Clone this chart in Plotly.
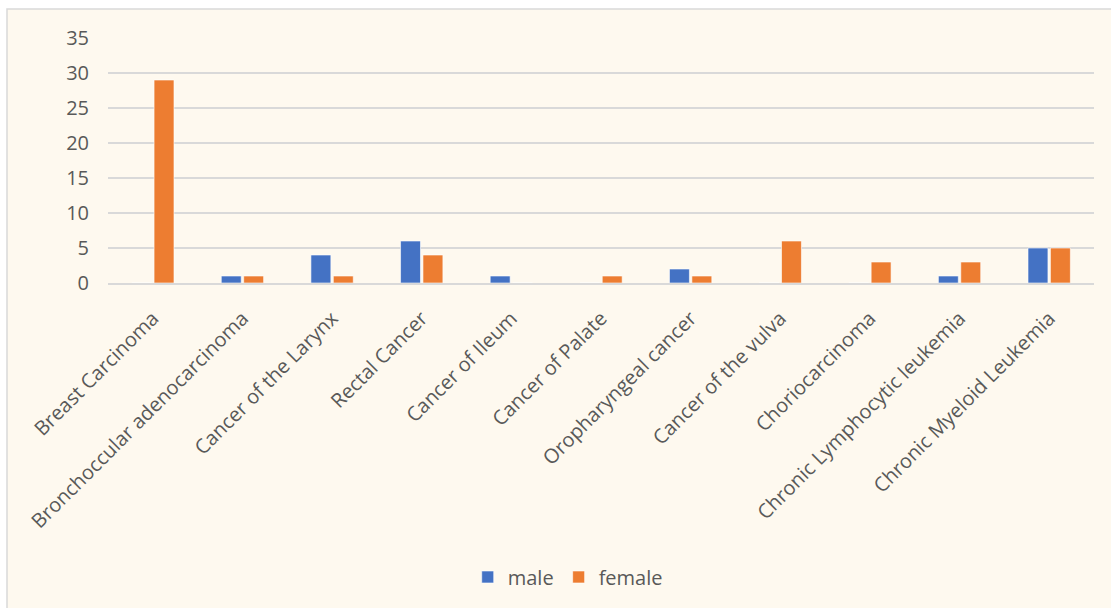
import plotly.graph_objects as go

categories = ["Breast Carcinoma", "Bronchoccular adenocarcinoma", "Cancer of the Larynx",
              "Rectal Cancer", "Cancer of Ileum", "Cancer of Palate", "Oropharyngeal cancer",
              "Cancer of the vulva", "Choriocarcinoma", "Chronic Lymphocytic leukemia",
              "Chronic Myeloid Leukemia"]
male = [0, 1, 4, 6, 1, 0, 2, 0, 0, 1, 5]
female = [29, 1, 1, 4, 0, 1, 1, 6, 3, 3, 5]

W, H = 1111, 608
L, R, T, B = 108, 17, 38, 325
pw, ph = W - L - R, H - T - B

FONT = "Open Sans"
TXT = "#595959"
BG = "#FEF9EF"

fig = go.Figure()
fig.add_trace(go.Bar(name="male", x=categories, y=male, marker_color="#4472C4",
                     marker_line=dict(color="rgba(255,255,255,0.6)", width=1)))
fig.add_trace(go.Bar(name="female", x=categories, y=female, marker_color="#ED7D31",
                     marker_line=dict(color="rgba(255,255,255,0.6)", width=1)))

fig.update_layout(
    width=W, height=H,
    margin=dict(l=L, r=R, t=T, b=B),
    paper_bgcolor="white",
    plot_bgcolor=BG,
    barmode="group",
    bargap=0.5,
    bargroupgap=0.11,
    font=dict(family=FONT, color=TXT, size=20),
    showlegend=True,
    legend=dict(orientation="h", xref="container", yref="container",
                x=0.511, y=0.051, xanchor="center", yanchor="middle",
                font=dict(size=20, color=TXT), bgcolor="rgba(0,0,0,0)",
                itemwidth=30, tracegroupgap=0),
    shapes=[dict(type="rect", xref="paper", yref="paper", layer="below",
                 x0=(7 - L) / pw, x1=(1120 - L) / pw,
                 y0=(H - B - 615) / ph, y1=(H - B - 9) / ph,
                 fillcolor=BG, line=dict(color="#D9D9D9", width=1.5))],
)
fig.update_yaxes(range=[0, 35], dtick=5, showgrid=True, gridcolor="#D9D9D9", gridwidth=1.5,
                 zeroline=False, showline=False, ticks="", ticklabelstandoff=18,
                 tickfont=dict(size=20, color=TXT))
fig.update_xaxes(showline=True, linecolor="#D9D9D9", linewidth=1.5, ticks="",
                 tickangle=-45, ticklabelstandoff=14, tickfont=dict(size=20, color=TXT))

fig.write_html("out.html")
